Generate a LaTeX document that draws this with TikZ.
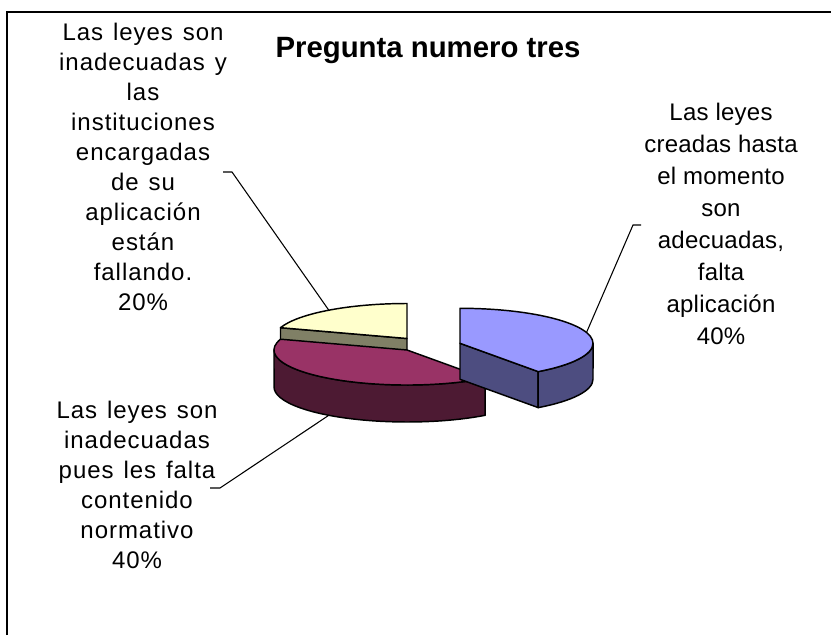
\documentclass[tikz,border=0pt]{standalone}
\usepackage{fontspec}
\setmainfont{Liberation Sans}
\newfontfamily\leftlblfont[WordSpace=1.3,LetterSpace=4]{Liberation Sans}
\newfontfamily\rightlblfont[LetterSpace=1]{Liberation Sans}
\definecolor{bluetop}{HTML}{9999FF}
\definecolor{blueside}{HTML}{4D4D80}
\definecolor{martop}{HTML}{993366}
\definecolor{marside}{HTML}{4D1A33}
\definecolor{yeltop}{HTML}{FFFFCC}
\definecolor{yelside}{HTML}{808066}
\begin{document}
\begin{tikzpicture}[x=0.75pt,y=-0.75pt,
  slice/.style={draw=black,line width=1.1pt,line join=round},
  leader/.style={draw=black,line width=0.8pt},
  lbl/.style={align=center,inner sep=0pt,anchor=north,font=\leftlblfont\fontsize{18}{22.5}\selectfont},
  ell/.style={x radius=133,y radius=35}]
\useasboundingbox (0,0) rectangle (831,635);
\draw[line width=1.5pt] (7.3,635) -- (7.3,12) -- (831,12);

% slice centres
\coordinate (Y) at (407,338.5);
\coordinate (M) at (407,350);
\coordinate (B) at (460,343.3);

% yellow slice (20%)
\filldraw[slice,fill=yelside] (Y) -- (280.5,327.7) -- (280.5,363.7) -- (407,374.5) -- cycle;
\filldraw[slice,fill=yeltop] (Y) -- (407,303.5) arc[start angle=-90,end angle=-162,ell] -- cycle;

% maroon slice (40%)
\filldraw[slice,fill=marside] (274,350) arc[start angle=-180,end angle=-306,ell]
  -- (485.2,415.3) arc[start angle=-306,end angle=-180,ell] -- cycle;
\filldraw[slice,fill=martop] (M) -- (280.5,339.2) arc[start angle=-162,end angle=-306,ell] -- cycle;

% blue slice (40%)
\filldraw[slice,fill=blueside] (B) -- (538.2,371.6) -- (538.2,407.6) -- (460,379.3) -- cycle;
\filldraw[slice,fill=blueside] (538.2,371.6) arc[start angle=-306,end angle=-360,ell]
  -- (593,379.3) arc[start angle=-360,end angle=-306,ell] -- cycle;
\filldraw[slice,fill=bluetop] (B) -- (460,308.3) arc[start angle=-90,end angle=54,ell] -- cycle;

% leader coordinates
\coordinate (bl1) at (586.5,332.5);
\coordinate (bl2) at (633,225);
\coordinate (bl3) at (641,225);
\coordinate (yl1) at (328.8,310.2);
\coordinate (yl2) at (232,172);
\coordinate (yl3) at (223,172);
\coordinate (ml1) at (328.8,415.3);
\coordinate (ml2) at (220,488);
\coordinate (ml3) at (210,488);
\draw[leader] (bl1) -- (bl2) -- (bl3);
\draw[leader] (yl1) -- (yl2) -- (yl3);
\draw[leader] (ml1) -- (ml2) -- (ml3);

% texts
\node[font=\bfseries\fontsize{22}{26}\selectfont,inner sep=0pt,anchor=north] (title) at (428,37) {Pregunta numero tres};
\node[lbl] (ltop) at (143,22.5) {Las leyes son\\inadecuadas y\\las\\instituciones\\encargadas\\de su\\aplicación\\están\\fallando.\\20\%};
\node[lbl,font=\rightlblfont\fontsize{18}{24}\selectfont] (lright) at (721,102.5) {Las leyes\\creadas hasta\\el momento\\son\\adecuadas,\\falta\\aplicación\\40\%};
\node[lbl] (lbot) at (137,401) {Las leyes son\\inadecuadas\\pues les falta\\contenido\\normativo\\40\%};
\end{tikzpicture}
\end{document}
